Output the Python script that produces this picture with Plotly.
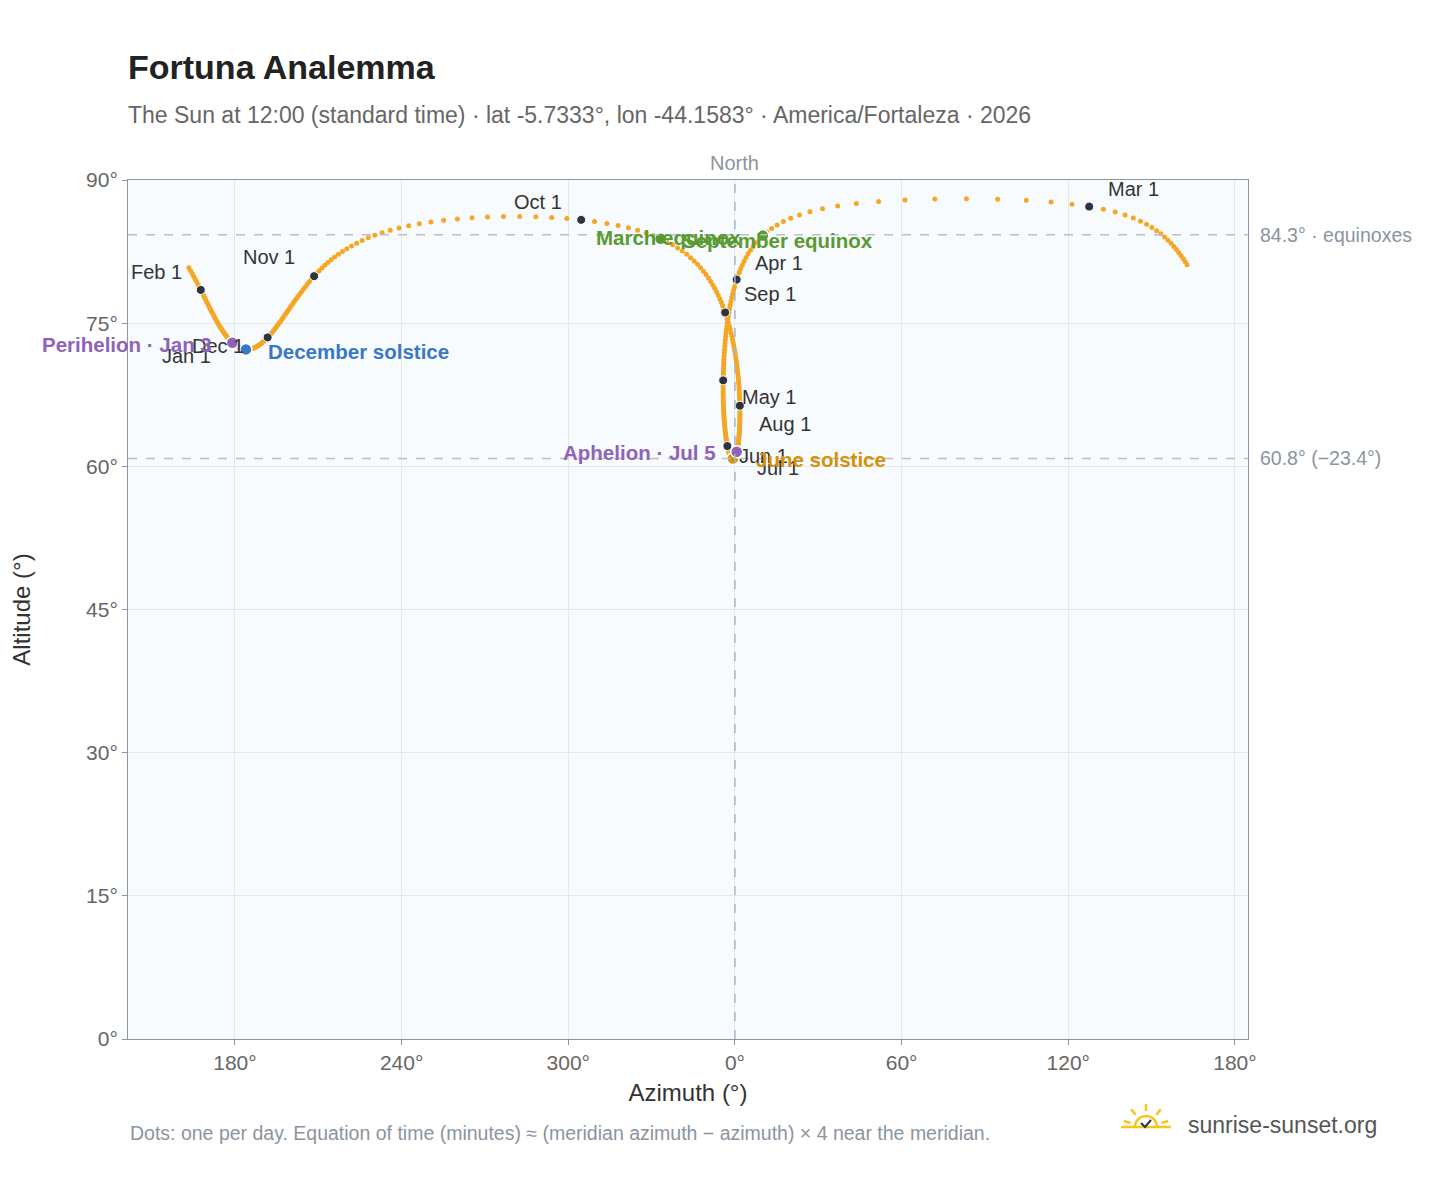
import math, datetime
import numpy as np
import plotly.graph_objects as go

LAT, LON = -5.7333, -44.1583
YEAR = 2026
UTC_OFFSET = -3
AZ_CUT = 163.4
months = ["Jan","Feb","Mar","Apr","May","Jun","Jul","Aug","Sep","Oct","Nov","Dec"]
# label offsets (px) for month-1st markers
month_ax = [-48, -44, 44, 42, 46, 36, 42, 45, 45, -43, -45, -50]
month_ay = [12, -18, -18, -17, 17, 10, 13, 18, -18, -18, -19, 9]
events = [("March equinox", 3, 20, "#5a9a32", -94, 2),
          ("September equinox", 9, 23, "#5a9a32", 117, 2),
          ("June solstice", 6, 21, "#d4920a", 88, 1),
          ("December solstice", 12, 21, "#3a78c4", 113, 2),
          ("Perihelion · Jan 3", 1, 3, "#8e63b8", -105, 2),
          ("Aphelion · Jul 5", 7, 5, "#8e63b8", -97, 1)]
tick_vals = [-180, -120, -60, 0, 60, 120, 180]
tick_text = ["180°", "240°", "300°", "0°", "60°", "120°", "180°"]

def sunpos(dt):
    n = (dt - datetime.datetime(2000, 1, 1, 12)).total_seconds() / 86400.0
    g = math.radians((357.529 + 0.98560028 * n) % 360)
    q = 280.459 + 0.98564736 * n
    L = math.radians((q + 1.915 * math.sin(g) + 0.020 * math.sin(2 * g)) % 360)
    e = math.radians(23.439 - 0.00000036 * n)
    ra = math.degrees(math.atan2(math.cos(e) * math.sin(L), math.cos(L)))
    dec = math.asin(math.sin(e) * math.sin(L))
    gmst = (280.46061837 + 360.98564736629 * n) % 360
    H = math.radians((gmst + LON - ra) % 360)
    lat = math.radians(LAT)
    alt = math.asin(math.sin(lat) * math.sin(dec) + math.cos(lat) * math.cos(dec) * math.cos(H))
    az = math.degrees(math.atan2(-math.cos(dec) * math.sin(H),
                                 math.sin(dec) * math.cos(lat) - math.cos(dec) * math.cos(H) * math.sin(lat))) % 360
    return az, math.degrees(alt)

dates = [datetime.date(YEAR, 1, 1) + datetime.timedelta(days=i) for i in range(365)]
pos = [sunpos(datetime.datetime(d.year, d.month, d.day, 12 - UTC_OFFSET)) for d in dates]
az = np.array([p[0] for p in pos]); alt = np.array([p[1] for p in pos])
x = np.where(az < AZ_CUT, az, az - 360)
idx = {d: k for k, d in enumerate(dates)}

fig = go.Figure()
fig.add_trace(go.Scatter(x=x, y=alt, mode="markers", marker=dict(size=5, color="#f5a623"), hoverinfo="skip"))
mi = [idx[datetime.date(YEAR, m, 1)] for m in range(1, 13)]
fig.add_trace(go.Scatter(x=x[mi], y=alt[mi], mode="markers",
                         marker=dict(size=9, color="#2d3440", line=dict(color="white", width=1))))
for k, m in enumerate(mi):
    fig.add_annotation(x=x[m], y=alt[m], text=f"{months[k]} 1", showarrow=True, arrowcolor="rgba(0,0,0,0)",
                       ax=month_ax[k], ay=month_ay[k], font=dict(size=20, color="#333"))
for name, mo, da, col, ax, ay in events:
    k = idx[datetime.date(YEAR, mo, da)]
    fig.add_trace(go.Scatter(x=[x[k]], y=[alt[k]], mode="markers",
                             marker=dict(size=12, color=col, line=dict(color="white", width=1.5))))
    fig.add_annotation(x=x[k], y=alt[k], text=f"<b>{name}</b>", showarrow=True, arrowcolor="rgba(0,0,0,0)",
                       ax=ax, ay=ay, font=dict(size=20.5, color=col))

eq = 90 - abs(LAT); sol = 90 - abs(LAT) - 23.44
for yv, lab in [(eq, f"{eq:.1f}° · equinoxes"), (sol, f"{sol:.1f}° (−23.4°)")]:
    fig.add_hline(y=yv, line=dict(color="#b8c0ca", dash="dash", width=1.5))
    fig.add_annotation(x=1, xref="paper", y=yv, text=lab, showarrow=False, xanchor="left", xshift=10,
                       font=dict(size=19.5, color="#8a94a0"))
fig.add_vline(x=0, line=dict(color="#a9b6c4", dash="dash", width=1.5))
fig.add_annotation(x=0, y=1, yref="paper", text="North", showarrow=False, yanchor="bottom", yshift=4,
                   font=dict(size=20, color="#8a94a0"))

def px(xp): return (xp - 128) / 1120
def py(yp): return (1039 - yp) / 859

fig.add_annotation(xref="paper", yref="paper", x=0, y=py(1133), text="Dots: one per day. Equation of time (minutes) ≈ (meridian azimuth − azimuth) × 4 near the meridian.",
                   showarrow=False, xanchor="left", yanchor="middle", font=dict(size=19.5, color="#8a94a0"))
fig.add_annotation(xref="paper", yref="paper", x=px(1379), y=py(1125), text="sunrise-sunset.org", showarrow=False,
                   xanchor="right", yanchor="middle", font=dict(size=23, color="#555"))

# sun logo
cx, cy, r = 1146, 1127, 11
pts = [(cx + r * math.cos(math.radians(a)), cy - r * math.sin(math.radians(a))) for a in range(0, 181, 10)]
fig.add_shape(type="path", xref="paper", yref="paper",
              path="M " + " L ".join(f"{px(a)} {py(b)}" for a, b in pts), line=dict(color="#f5c518", width=2.5))
for a in [15, 50, 90, 130, 165]:
    ra = math.radians(a)
    fig.add_shape(type="line", xref="paper", yref="paper",
                  x0=px(cx + 16 * math.cos(ra)), y0=py(cy - 16 * math.sin(ra)),
                  x1=px(cx + 23 * math.cos(ra)), y1=py(cy - 23 * math.sin(ra)),
                  line=dict(color="#f5c518", width=2.5))
fig.add_shape(type="line", xref="paper", yref="paper", x0=px(cx - 25), x1=px(cx + 25), y0=py(cy), y1=py(cy),
              line=dict(color="#f5c518", width=2.5))
fig.add_shape(type="path", xref="paper", yref="paper",
              path=f"M {px(cx-5)} {py(cy-4)} L {px(cx-1)} {py(cy)} L {px(cx+5)} {py(cy-7)}",
              line=dict(color="#2d3440", width=2))

fig.update_layout(
    width=1448, height=1188, showlegend=False, paper_bgcolor="white", plot_bgcolor="#f8fbfe",
    margin=dict(l=120, r=208, t=172, b=157, autoexpand=False),
    font=dict(family="Liberation Sans, Arial, sans-serif"),
    title=dict(text="<b>Fortuna Analemma</b><br><span style='font-size:23px;color:#666'>The Sun at 12:00 (standard time) · lat -5.7333°, lon -44.1583° · America/Fortaleza · 2026</span>",
               x=0, xref="paper", xanchor="left", y=0.94, yanchor="top", font=dict(size=34, color="#222")),
    xaxis=dict(range=[-218.5, 184.7], tickvals=tick_vals, ticktext=tick_text, showgrid=True, gridcolor="#e3e8ee",
               zeroline=False, showline=True, linecolor="#8a96a6", mirror=True, ticks="outside", ticklen=5,
               tickcolor="#8a96a6", tickfont=dict(size=21, color="#666"), automargin=False,
               title=dict(text="Azimuth (°)", font=dict(size=24, color="#333"), standoff=10)),
    yaxis=dict(range=[0, 90], dtick=15, ticksuffix="°", showgrid=True, gridcolor="#e3e8ee", zeroline=False,
               showline=True, linecolor="#8a96a6", mirror=True, ticks="outside", ticklen=5, tickcolor="#8a96a6",
               tickfont=dict(size=21, color="#666"), automargin=False,
               title=dict(text="Altitude (°)", font=dict(size=24, color="#333"), standoff=50)),
)
fig.write_html("out.html")
